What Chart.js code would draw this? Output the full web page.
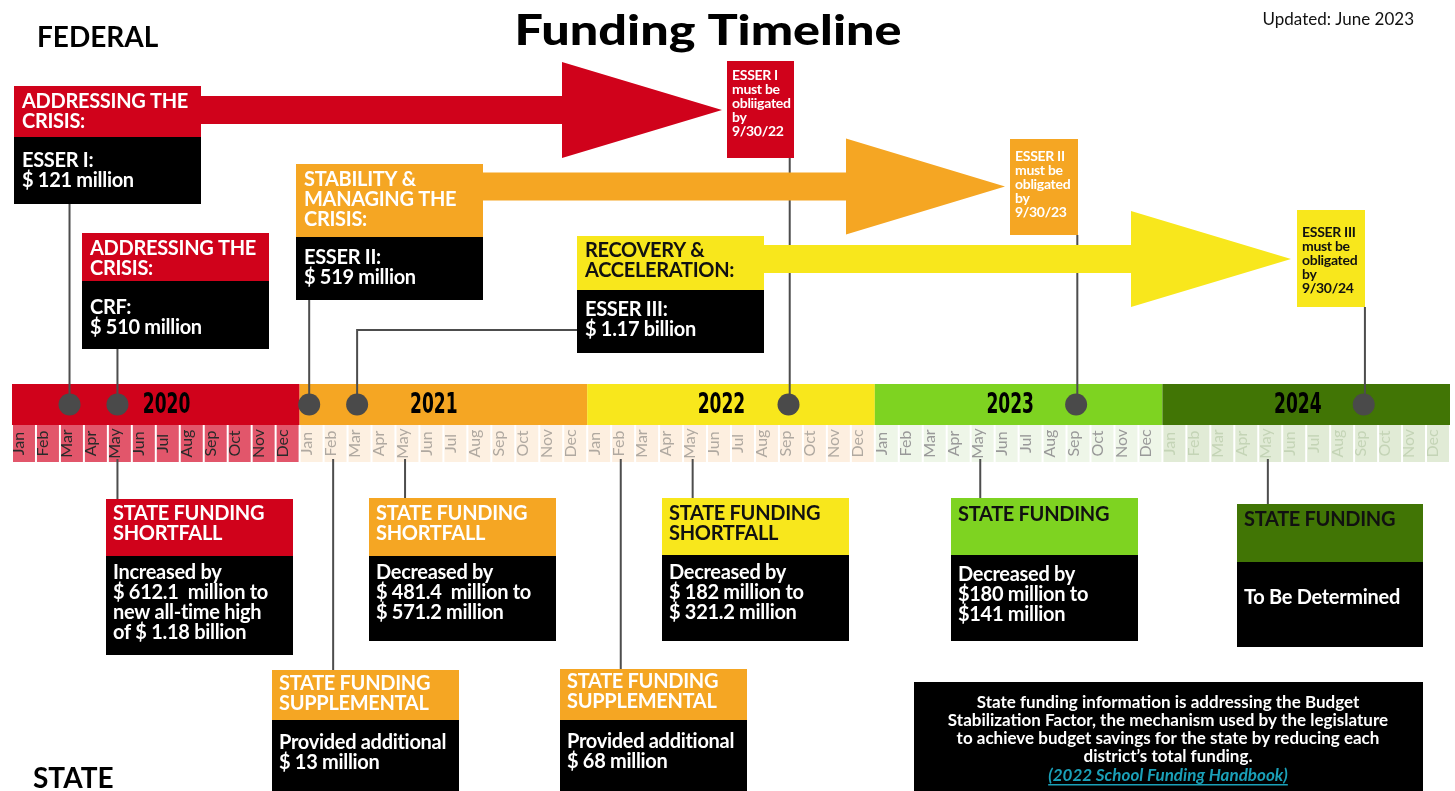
<!DOCTYPE html>
<html><head><meta charset="utf-8">
<script src="https://cdn.jsdelivr.net/npm/chart.js@4.4.0/dist/chart.umd.min.js"></script>
<style>html,body{margin:0;padding:0;background:#fff;overflow:hidden}canvas{display:block}</style>
</head><body><canvas id="c" width="1455" height="791" style="width:1455px;height:791px"></canvas>
<script>
// ---------- DATA ----------
const years = ['2020', '2021', '2022', '2023', '2024'];
const months = ['Jan','Feb','Mar','Apr','May','Jun','Jul','Aug','Sep','Oct','Nov','Dec'];
// month index counted from Jan 2020
const federalEventMonths = [2, 4, 12, 14];      // Mar 2020, May 2020, Jan 2021, Mar 2021
const deadlineMonths = [32, 44, 56];            // Sep 2022, Sep 2023, Sep 2024
const stateEventMonths = [4, 13, 16, 25, 28, 40, 52];
const federalHeaders = ['ADDRESSING THE\nCRISIS:', 'ADDRESSING THE\nCRISIS:', 'STABILITY &\nMANAGING THE\nCRISIS:', 'RECOVERY &\nACCELERATION:'];
const federalAmounts = ['ESSER I:\n$ 121 million', 'CRF:\n$ 510 million', 'ESSER II:\n$ 519 million', 'ESSER III:\n$ 1.17 billion'];
const deadlineNotes = ['ESSER I\nmust be\nobliigated\nby\n9/30/22', 'ESSER II\nmust be\nobligated\nby\n9/30/23', 'ESSER III\nmust be\nobligated\nby\n9/30/24'];
const stateHeaders = ['STATE FUNDING\nSHORTFALL', 'STATE FUNDING\nSUPPLEMENTAL', 'STATE FUNDING\nSHORTFALL', 'STATE FUNDING\nSUPPLEMENTAL', 'STATE FUNDING\nSHORTFALL', 'STATE FUNDING', 'STATE FUNDING'];
const stateDetails = ['Increased by\n$ 612.1  million to\nnew all-time high\nof $ 1.18 billion', 'Provided additional\n$ 13 million', 'Decreased by\n$ 481.4  million to\n$ 571.2 million', 'Provided additional\n$ 68 million', 'Decreased by\n$ 182 million to\n$ 321.2 million', 'Decreased by\n$180 million to\n$141 million', 'To Be Determined'];
const noteLines = ['State funding information is addressing the Budget', 'Stabilization Factor, the mechanism used by the legislature', 'to achieve budget savings for the state by reducing each', 'district\u2019s total funding.'];
const noteLink = '(2022 School Funding Handbook)';
const titleText = 'Funding Timeline';
const updatedText = 'Updated: June 2023';

// ---------- STYLE / LAYOUT ----------
const RED = '#d0021b', ORANGE = '#f5a623', YELLOW = '#f8e71c', GREEN = '#7ed321', DKGREEN = '#417505';
const yearColors = [RED, ORANGE, YELLOW, GREEN, DKGREEN];
const cellColors = ['#e2566b', '#fdf0e1', '#fdefe0', '#eef6e8', '#e1ebd6'];
const monthTextColors = ['#2a2a2a', '#b0a9a1', '#b0a9a1', '#999999', '#c4d4b6'];
const yearLabelAt = [6.45, 17.6, 29.6, 41.65, 53.65];
const BAND = [384, 425], CELLS = [425, 462], DOT_Y = 404.5;
const ANCHOR = 0.4, LABEL_OFF = 0.3;
const LH = 19.7;
const fedLayout = [
  {x:14, y:86, w:187, hh:51, bh:67, hy:16, by:24, c:RED, t:'#fff'},
  {x:82, y:233, w:187, hh:48, bh:68, hy:16, by:27, c:RED, t:'#fff'},
  {x:296, y:164, w:187, hh:73, bh:63, hy:16, by:21, c:ORANGE, t:'#fff'},
  {x:577, y:236, w:187, hh:54, bh:63, hy:15, by:20, c:YELLOW, t:'#111'}
];
const noteLayout = [
  {x:727, y:61, w:67, h:97, ty:14, c:RED, t:'#fff'},
  {x:1010, y:139, w:68, h:96, ty:17, c:ORANGE, t:'#fff'},
  {x:1297, y:210, w:68, h:97, ty:22, c:YELLOW, t:'#111'}
];
const arrowLayout = [
  {x0:201, x1:562, tip:722, cy:110, c:RED},
  {x0:483, x1:846, tip:1005, cy:186.5, c:ORANGE},
  {x0:764, x1:1131, tip:1291, cy:259, c:YELLOW}
];
const stateLayout = [
  {x:106, y:499, w:187, hh:57, bh:99, hy:15, by:17, c:RED, t:'#fff'},
  {x:272, y:670, w:187, hh:50, bh:125, hy:14, by:23, c:ORANGE, t:'#fff'},
  {x:369, y:498, w:187, hh:58, bh:85, hy:16, by:17, c:ORANGE, t:'#fff'},
  {x:560, y:669, w:187, hh:51, bh:125, hy:13, by:22, c:ORANGE, t:'#fff'},
  {x:662, y:498, w:187, hh:57, bh:86, hy:16, by:18, c:YELLOW, t:'#111'},
  {x:951, y:498, w:187, hh:57, bh:86, hy:17, by:20, c:GREEN, t:'#111'},
  {x:1237, y:504, w:186, hh:58, bh:85, hy:16, by:36, c:DKGREEN, t:'#111'}
];
const fedBoxBottoms = fedLayout.map(b => b.y + b.hh + b.bh);
const noteBottoms = noteLayout.map(b => b.y + b.h);
const stateBoxTops = stateLayout.map(b => b.y);
const PXM = 1438 / 60; // pixels per month, used only to place the L-connector end on the box edge
const toMonth = p => (p - 12) / PXM;

// ---------- DATASETS ----------
const LINE = '#4d4d4d';
function connector(points) {
  return {type:'line', data:points, borderColor:LINE, borderWidth:2, pointRadius:0, fill:false, tension:0, order:2};
}
const connectors = [];
federalEventMonths.forEach((m, i) => {
  if (i === 3) {
    const b = fedLayout[3];
    connectors.push(connector([{x:toMonth(b.x), y:330}, {x:m + ANCHOR, y:330}, {x:m + ANCHOR, y:DOT_Y}]));
  } else {
    connectors.push(connector([{x:m + ANCHOR, y:fedBoxBottoms[i]}, {x:m + ANCHOR, y:DOT_Y}]));
  }
});
deadlineMonths.forEach((m, i) => connectors.push(connector([{x:m + ANCHOR + 0.05, y:noteBottoms[i]}, {x:m + ANCHOR + 0.05, y:DOT_Y}])));
stateEventMonths.forEach((m, i) => connectors.push(connector([{x:m + ANCHOR, y:CELLS[1] - 3}, {x:m + ANCHOR, y:stateBoxTops[i]}])));

const dots = {
  type:'scatter',
  data: federalEventMonths.concat(deadlineMonths).map(m => ({x:m + ANCHOR, y:DOT_Y})),
  pointRadius:11, pointHoverRadius:11, backgroundColor:'#4a4a4a', borderWidth:0, order:1
};

// ---------- DRAWING PLUGIN ----------
function drawLines(ctx, text, x, y, lh) {
  text.split('\n').forEach((t, i) => ctx.fillText(t, x, y + i * lh));
}
const timelinePlugin = {
  id:'timeline',
  beforeDatasetsDraw(chart) {
    const ctx = chart.ctx, xs = chart.scales.x, ys = chart.scales.y;
    ctx.save();
    years.forEach((yr, i) => {
      const x0 = xs.getPixelForValue(i * 12), x1 = xs.getPixelForValue(i * 12 + 12);
      const y0 = ys.getPixelForValue(BAND[0]), y1 = ys.getPixelForValue(BAND[1]);
      ctx.fillStyle = yearColors[i];
      ctx.fillRect(x0, y0, x1 - x0, y1 - y0);
    });
    for (let m = 0; m < years.length * 12; m++) {
      const yi = Math.floor(m / 12);
      const x0 = xs.getPixelForValue(m), x1 = xs.getPixelForValue(m + 1);
      const y0 = ys.getPixelForValue(CELLS[0]), y1 = ys.getPixelForValue(CELLS[1]);
      ctx.fillStyle = cellColors[yi];
      ctx.fillRect(x0 + 1, y0, x1 - x0 - 2, y1 - y0);
      ctx.save();
      ctx.translate(xs.getPixelForValue(m + LABEL_OFF), (y0 + y1) / 2);
      ctx.rotate(-Math.PI / 2);
      ctx.fillStyle = monthTextColors[yi];
      ctx.font = '16px Lato, sans-serif';
      ctx.textAlign = 'center'; ctx.textBaseline = 'middle';
      ctx.fillText(months[m % 12], 0, 0);
      ctx.restore();
    }
    years.forEach((yr, i) => {
      ctx.save();
      ctx.translate(xs.getPixelForValue(yearLabelAt[i]), ys.getPixelForValue(DOT_Y + 1));
      ctx.scale(1, 1.45);
      ctx.font = 'bold 19px "Liberation Sans Narrow", "DejaVu Sans Condensed", sans-serif';
      ctx.fillStyle = '#000';
      ctx.textAlign = 'center'; ctx.textBaseline = 'middle';
      ctx.fillText(yr, 0, 0);
      ctx.restore();
    });
    ctx.restore();
  },
  afterDatasetsDraw(chart) {
    const ctx = chart.ctx;
    ctx.save();
    arrowLayout.forEach(a => {
      ctx.fillStyle = a.c;
      ctx.beginPath();
      ctx.moveTo(a.x0, a.cy - 14); ctx.lineTo(a.x1, a.cy - 14); ctx.lineTo(a.x1, a.cy - 48);
      ctx.lineTo(a.tip, a.cy); ctx.lineTo(a.x1, a.cy + 48); ctx.lineTo(a.x1, a.cy + 14);
      ctx.lineTo(a.x0, a.cy + 14); ctx.closePath(); ctx.fill();
    });
    ctx.textAlign = 'left'; ctx.textBaseline = 'middle';
    try { ctx.letterSpacing = '-0.3px'; } catch (e) {}
    fedLayout.forEach((b, i) => {
      ctx.fillStyle = b.c; ctx.fillRect(b.x, b.y, b.w, b.hh);
      ctx.fillStyle = '#000'; ctx.fillRect(b.x, b.y + b.hh, b.w, b.bh);
      ctx.font = 'bold 20px Lato, sans-serif';
      ctx.fillStyle = b.t; drawLines(ctx, federalHeaders[i], b.x + 8, b.y + b.hy, LH);
      ctx.fillStyle = '#fff'; drawLines(ctx, federalAmounts[i], b.x + 8, b.y + b.hh + b.by, LH);
    });
    noteLayout.forEach((b, i) => {
      ctx.fillStyle = b.c; ctx.fillRect(b.x, b.y, b.w, b.h);
      ctx.font = 'bold 14px Lato, sans-serif';
      ctx.fillStyle = b.t; drawLines(ctx, deadlineNotes[i], b.x + 5, b.y + b.ty, 14);
    });
    stateLayout.forEach((b, i) => {
      ctx.fillStyle = b.c; ctx.fillRect(b.x, b.y, b.w, b.hh);
      ctx.fillStyle = '#000'; ctx.fillRect(b.x, b.y + b.hh, b.w, b.bh);
      ctx.font = 'bold 20px Lato, sans-serif';
      ctx.fillStyle = b.t; drawLines(ctx, stateHeaders[i], b.x + 7, b.y + b.hy, LH);
      ctx.fillStyle = '#fff'; drawLines(ctx, stateDetails[i], b.x + 7, b.y + b.hh + b.by, LH);
    });
    try { ctx.letterSpacing = '0px'; } catch (e) {}
    ctx.fillStyle = '#000'; ctx.fillRect(914, 682, 509, 112);
    ctx.textAlign = 'center';
    ctx.fillStyle = '#fff'; ctx.font = 'bold 17px Lato, sans-serif';
    noteLines.forEach((t, i) => ctx.fillText(t, 1168, 703 + i * 18));
    ctx.fillStyle = '#1aa0b8'; ctx.font = 'italic bold 17px Lato, sans-serif';
    ctx.fillText(noteLink, 1168, 776);
    const lw = ctx.measureText(noteLink).width;
    ctx.fillRect(1168 - lw / 2, 784, lw, 1.5);
    ctx.fillStyle = '#000';
    ctx.font = '900 42px Lato, sans-serif';
    const tw = ctx.measureText(titleText).width;
    ctx.save();
    ctx.translate(708, 31);
    ctx.scale(387 / tw, 1);
    ctx.fillText(titleText, 0, 0);
    ctx.restore();
    ctx.textAlign = 'left';
    ctx.font = 'bold 28px Lato, sans-serif';
    ctx.fillText('FEDERAL', 37, 38);
    ctx.fillText('STATE', 33, 779);
    ctx.textAlign = 'right';
    ctx.font = '17px Lato, sans-serif';
    ctx.fillStyle = '#111';
    ctx.fillText(updatedText, 1414, 20);
    ctx.restore();
  }
};

new Chart(document.getElementById('c'), {
  data: { datasets: connectors.concat([dots]) },
  options: {
    responsive:false, maintainAspectRatio:false, animation:false, events:[],
    layout:{autoPadding:false, padding:{left:12, right:5, top:0, bottom:0}},
    plugins:{legend:{display:false}, tooltip:{enabled:false}, title:{display:false}},
    scales:{
      x:{type:'linear', min:0, max:60, display:false},
      y:{type:'linear', min:0, max:791, reverse:true, display:false}
    }
  },
  plugins:[timelinePlugin]
});
</script></body></html>
